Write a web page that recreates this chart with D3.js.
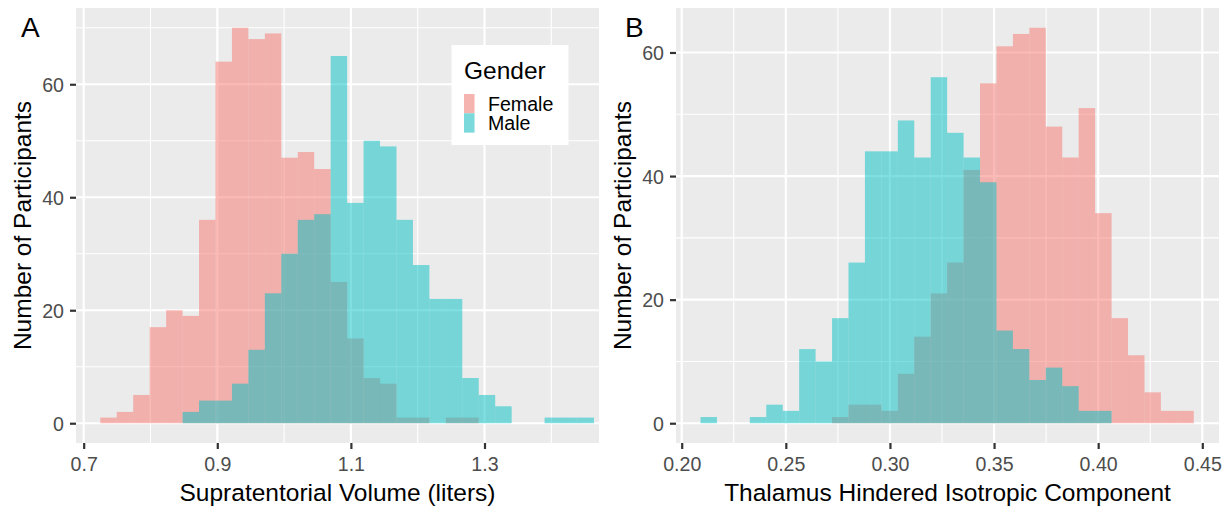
<!DOCTYPE html>
<html>
<head>
<meta charset="utf-8">
<script src="https://cdn.jsdelivr.net/npm/d3@7"></script>
<style>
  html, body { margin: 0; padding: 0; background: #ffffff; }
  svg { display: block; font-family: "Liberation Sans", Arial, Helvetica, sans-serif; }
</style>
</head>
<body>
<svg id="chart" width="1230" height="508"></svg>
<script>
// ---------- data ----------
const seriesNames = ["Female", "Male"];
const seriesColors = ["#F8766D", "#00BFC4"];

// Panel A: Supratentorial Volume (liters), 30 bins
const binStartA = 0.7249;
const binWidthA = 0.02463;
const femaleA = [1, 2, 5, 17, 20, 19, 36, 64, 70, 68, 69, 47, 48, 45, 25, 15, 8, 7, 1, 1, 0, 1, 1, 0, 0, 0, 0, 0, 0, 0];
const maleA   = [0, 0, 0, 0, 0, 2, 4, 4, 7, 13, 23, 30, 36, 37, 65, 39, 50, 49, 36, 28, 22, 22, 8, 5, 3, 0, 0, 1, 1, 1];
const xTicksA = [0.7, 0.9, 1.1, 1.3];
const xTickLabelsA = ["0.7", "0.9", "1.1", "1.3"];
const xMinorA = [0.8, 1.0, 1.2, 1.4];

// Panel B: Thalamus Hindered Isotropic Component, 30 bins
const binStartB = 0.20903;
const binWidthB = 0.007896;
const femaleB = [0, 0, 0, 0, 0, 0, 0, 0, 1, 3, 3, 2, 8, 14, 21, 26, 41, 55, 61, 63, 64, 48, 43, 51, 34, 17, 11, 5, 2, 2];
const maleB   = [1, 0, 0, 1, 3, 2, 12, 10, 17, 26, 44, 44, 49, 43, 56, 47, 43, 39, 15, 12, 7, 9, 6, 2, 2, 0, 0, 0, 0, 0];
const xTicksB = [0.20, 0.25, 0.30, 0.35, 0.40, 0.45];
const xTickLabelsB = ["0.20", "0.25", "0.30", "0.35", "0.40", "0.45"];
const xMinorB = [0.225, 0.275, 0.325, 0.375, 0.425];

const yTicks = [0, 20, 40, 60];
const yTickLabels = ["0", "20", "40", "60"];
const yMinor = [10, 30, 50, 70];

const yTitle = "Number of Participants";
const xTitleA = "Supratentorial Volume (liters)";
const xTitleB = "Thalamus Hindered Isotropic Component";
const legendTitle = "Gender";

// ---------- drawing ----------
const svg = d3.select("#chart");
const FONT_TICK = 19.6, FONT_TITLE = 24.5, FONT_TAG = 28;

function panel(cfg) {
  const g = svg.append("g");
  const x = d3.scaleLinear().domain(cfg.xDomain).range([cfg.left, cfg.right]);
  const y = d3.scaleLinear().domain(cfg.yDomain).range([cfg.bottom, cfg.top]);

  // background
  g.append("rect")
    .attr("x", cfg.left).attr("y", cfg.top)
    .attr("width", cfg.right - cfg.left).attr("height", cfg.bottom - cfg.top)
    .attr("fill", "#EBEBEB");

  // minor grid
  const inX = v => x(v) >= cfg.left && x(v) <= cfg.right;
  const inY = v => y(v) >= cfg.top && y(v) <= cfg.bottom;
  g.selectAll(".vminor").data(cfg.xMinor.filter(inX)).enter().append("line")
    .attr("x1", d => x(d)).attr("x2", d => x(d)).attr("y1", cfg.top).attr("y2", cfg.bottom)
    .attr("stroke", "#ffffff").attr("stroke-width", 1.1);
  g.selectAll(".hminor").data(yMinor.filter(inY)).enter().append("line")
    .attr("y1", d => y(d)).attr("y2", d => y(d)).attr("x1", cfg.left).attr("x2", cfg.right)
    .attr("stroke", "#ffffff").attr("stroke-width", 1.1);
  // major grid
  g.selectAll(".vmajor").data(cfg.xTicks).enter().append("line")
    .attr("x1", d => x(d)).attr("x2", d => x(d)).attr("y1", cfg.top).attr("y2", cfg.bottom)
    .attr("stroke", "#ffffff").attr("stroke-width", 2.2);
  g.selectAll(".hmajor").data(yTicks).enter().append("line")
    .attr("y1", d => y(d)).attr("y2", d => y(d)).attr("x1", cfg.left).attr("x2", cfg.right)
    .attr("stroke", "#ffffff").attr("stroke-width", 2.2);

  // bars: Female first, then Male on top
  cfg.series.forEach((counts, si) => {
    const bins = counts.map((c, i) => ({
      x0: cfg.binStart + i * cfg.binWidth,
      x1: cfg.binStart + (i + 1) * cfg.binWidth,
      c: c
    })).filter(d => d.c > 0);
    g.append("g").selectAll("rect").data(bins).enter().append("rect")
      .attr("x", d => x(d.x0))
      .attr("width", d => x(d.x1) - x(d.x0))
      .attr("y", d => y(d.c))
      .attr("height", d => y(0) - y(d.c))
      .attr("fill", seriesColors[si])
      .attr("fill-opacity", 0.5);
  });

  // axes
  const xAxis = d3.axisBottom(x).tickValues(cfg.xTicks)
    .tickFormat((d, i) => cfg.xTickLabels[i]).tickSize(6).tickPadding(4);
  const gx = g.append("g").attr("transform", `translate(0,${cfg.bottom})`).call(xAxis);
  gx.select(".domain").remove();
  gx.selectAll(".tick line").attr("stroke", "#333333").attr("stroke-width", 2.2);
  gx.selectAll(".tick text").attr("fill", "#4D4D4D").attr("font-size", FONT_TICK)
    .attr("font-family", "Liberation Sans, Arial, sans-serif")
    .attr("dy", null).attr("y", 28);

  const yAxis = d3.axisLeft(y).tickValues(yTicks)
    .tickFormat((d, i) => yTickLabels[i]).tickSize(6).tickPadding(5);
  const gy = g.append("g").attr("transform", `translate(${cfg.left},0)`).call(yAxis);
  gy.select(".domain").remove();
  gy.selectAll(".tick line").attr("stroke", "#333333").attr("stroke-width", 2.2);
  gy.selectAll(".tick text").attr("fill", "#4D4D4D").attr("font-size", FONT_TICK)
    .attr("font-family", "Liberation Sans, Arial, sans-serif")
    .attr("dy", "0.36em").attr("x", -12);

  // titles
  g.append("text")
    .attr("x", (cfg.left + cfg.right) / 2).attr("y", 501)
    .attr("text-anchor", "middle").attr("font-size", FONT_TITLE).attr("fill", "#000")
    .text(cfg.xTitle);
  g.append("text")
    .attr("transform", `translate(${cfg.yTitleX},${(cfg.top + cfg.bottom) / 2}) rotate(-90)`)
    .attr("text-anchor", "middle").attr("font-size", FONT_TITLE).attr("fill", "#000")
    .text(yTitle);
  g.append("text")
    .attr("x", cfg.tagX).attr("y", 37)
    .attr("font-size", FONT_TAG).attr("fill", "#000")
    .text(cfg.tag);
  return { x, y, g };
}

const pA = panel({
  left: 76, right: 599, top: 8, bottom: 443,
  xDomain: [0.6885, 1.4714], yDomain: [-3.5, 73.5],
  binStart: binStartA, binWidth: binWidthA,
  series: [femaleA, maleA],
  xTicks: xTicksA, xTickLabels: xTickLabelsA, xMinor: xMinorA,
  xTitle: xTitleA, yTitleX: 31, tag: "A", tagX: 21
});

const pB = panel({
  left: 676, right: 1219, top: 8, bottom: 443,
  xDomain: [0.19726, 0.45802], yDomain: [-3.2, 67.2],
  binStart: binStartB, binWidth: binWidthB,
  series: [femaleB, maleB],
  xTicks: xTicksB, xTickLabels: xTickLabelsB, xMinor: xMinorB,
  xTitle: xTitleB, yTitleX: 631, tag: "B", tagX: 625
});

// legend (inside panel A)
const lg = svg.append("g");
lg.append("rect").attr("x", 451.5).attr("y", 45).attr("width", 117).attr("height", 100).attr("fill", "#ffffff");
lg.append("text").attr("x", 464).attr("y", 79).attr("font-size", FONT_TITLE).attr("fill", "#000").text(legendTitle);
seriesNames.forEach((name, i) => {
  const ky = 94 + i * 19.3;
  lg.append("rect").attr("x", 464).attr("y", ky).attr("width", 10.5).attr("height", 19.3).attr("fill", "#F2F2F2");
  lg.append("rect").attr("x", 464).attr("y", ky).attr("width", 10.5).attr("height", 19.3)
    .attr("fill", seriesColors[i]).attr("fill-opacity", 0.5);
  lg.append("text").attr("x", 488).attr("y", ky + 9.65).attr("dy", "0.36em")
    .attr("font-size", FONT_TICK).attr("fill", "#000").text(name);
});
</script>
</body>
</html>
